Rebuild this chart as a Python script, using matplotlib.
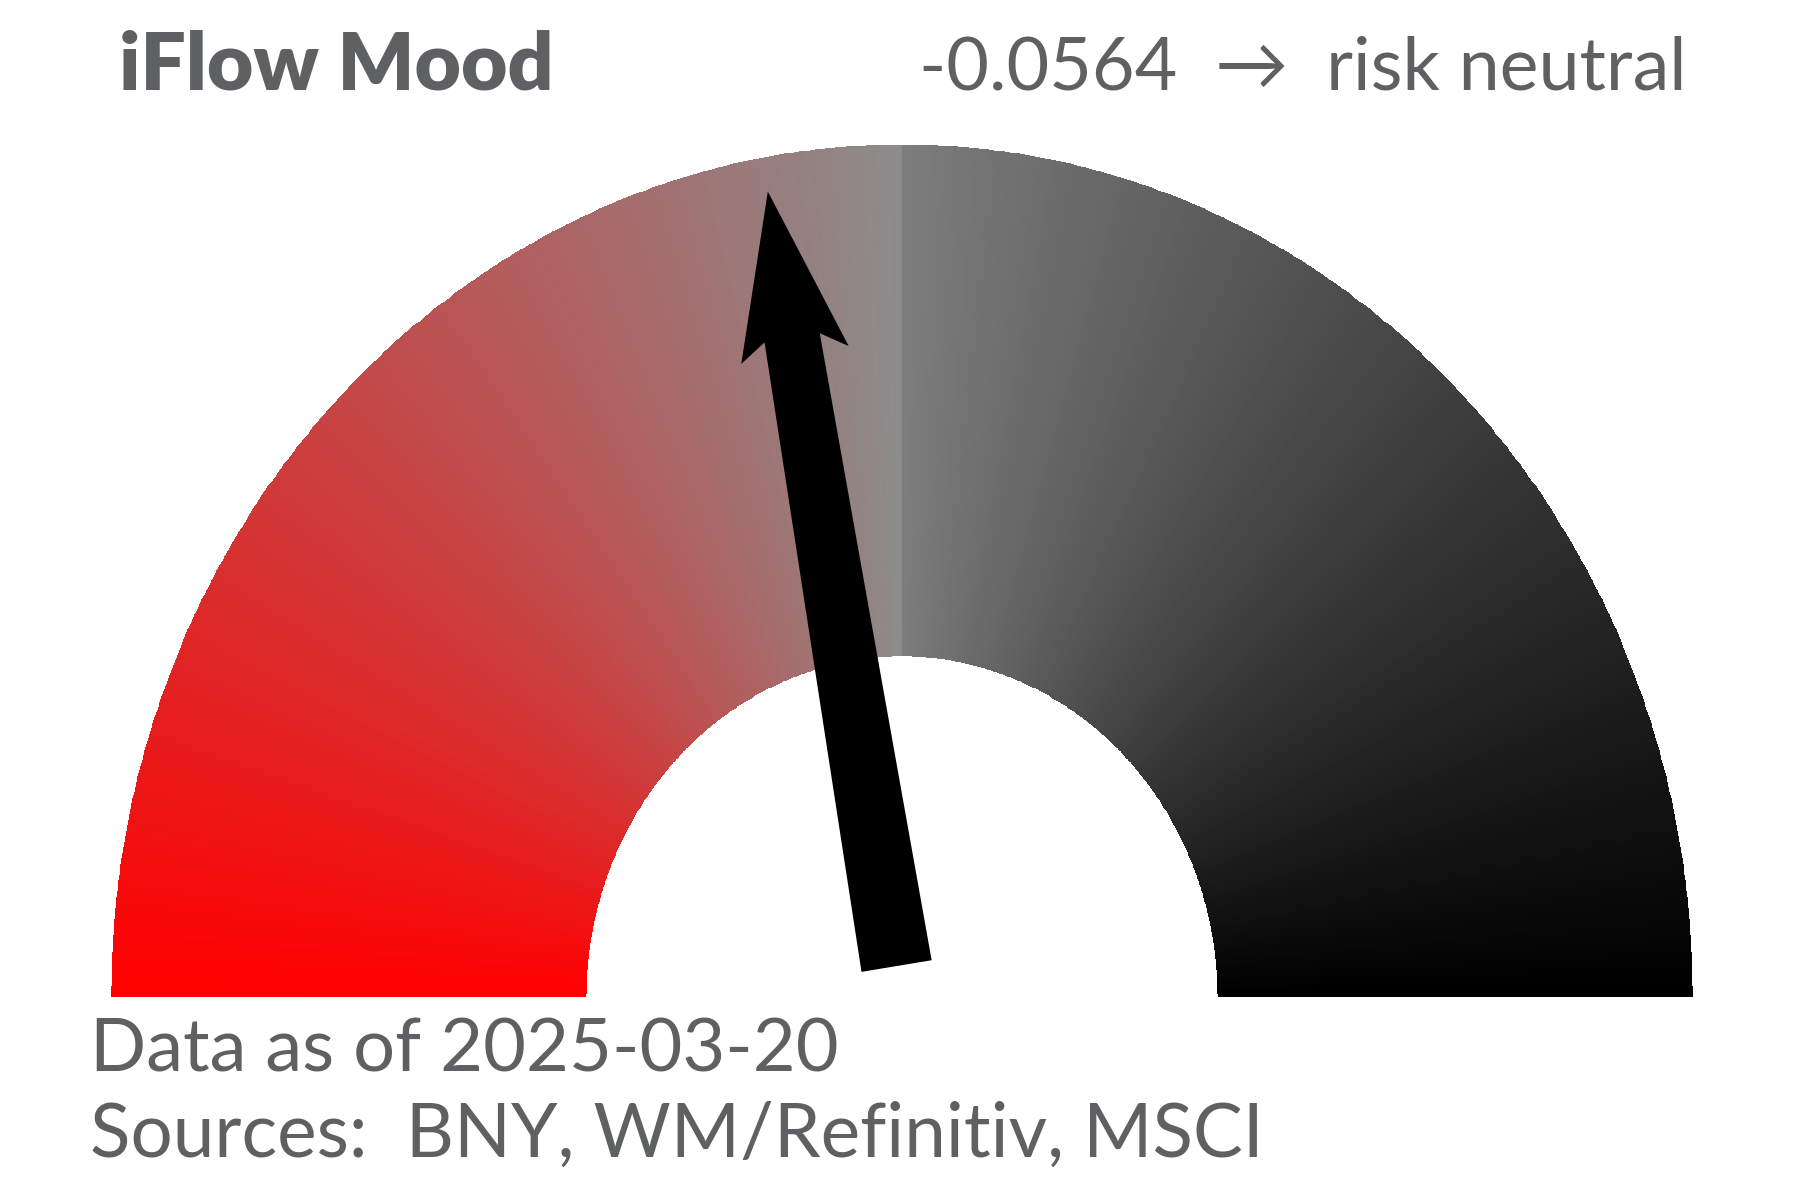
import numpy as np
import matplotlib
matplotlib.use("Agg")
import matplotlib.pyplot as plt
from matplotlib.colors import LinearSegmentedColormap

# values shown on the gauge
mood_value = -0.0564
mood_label = "risk neutral"
scale_min, scale_max = -0.5, 0.5
title = "iFlow Mood"
data_date = "2025-03-20"
sources = ["BNY", "WM/Refinitiv", "MSCI"]

# gauge colours: left half red -> grey, right half grey -> black
left_colors = ["#ff0000", "#8c8c8c"]
right_colors = ["#7c7c7c", "#000000"]
text_color = "#5f6061"
fonts = ["Lato", "DejaVu Sans"]

R_OUT, R_IN = 1.0, 0.4
K = 1.077  # vertical stretch of the gauge on screen

fig = plt.figure(figsize=(12, 8), dpi=150)
ax = fig.add_axes([0, 0, 1, 1])
ax.set_xlim(-1.1411, 1.1373)
ax.set_ylim(-0.2401, 1.170)
ax.axis("off")

# gradient half rings drawn as quad meshes
n = 240
radii = np.array([R_IN, R_OUT])
for (a0, a1), cols in [((np.pi, np.pi / 2), left_colors), ((np.pi / 2, 0.0), right_colors)]:
    theta = np.linspace(a0, a1, n + 1)
    T, Rr = np.meshgrid(theta, radii)
    X, Y = Rr * np.cos(T), Rr * np.sin(T)
    C = np.linspace(0, 1, n).reshape(1, -1)
    cmap = LinearSegmentedColormap.from_list("half", cols)
    ax.pcolormesh(X, Y, C, cmap=cmap, shading="flat", antialiased=False,
                  edgecolors="face", linewidth=0.3)

# needle, built in screen-proportional units then squashed back to data
ang = np.pi / 2 - (mood_value - (scale_min + scale_max) / 2) / (scale_max - scale_min) * np.pi
d = np.array([np.cos(ang), K * np.sin(ang)])
reach = np.linalg.norm(d)
d = d / reach
p = np.array([d[1], -d[0]])  # perpendicular
base_off, tip = 0.038, 0.96 * reach
barb, joint = 0.822, 0.844
w_base, w_joint, w_head = 0.045, 0.0354, 0.0689
pts = np.array([
    base_off * d + w_base * p,
    joint * d + w_joint * p,
    barb * d + w_head * p,
    tip * d,
    barb * d - w_head * p,
    joint * d - w_joint * p,
    base_off * d - w_base * p,
])
ax.fill(pts[:, 0], pts[:, 1] / K, color="black", lw=0, zorder=3)

# texts
fig.text(0.066, 0.9256, title, fontsize=38.5, fontweight="heavy",
         family=fonts, color=text_color, ha="left", va="baseline")
fig.text(0.937, 0.925, f"{mood_value:.4f}  \u2192  {mood_label}", fontsize=35.3,
         fontweight="normal", family=fonts, color=text_color,
         ha="right", va="baseline")
fig.text(0.050, 0.1069, f"Data as of {data_date}", fontsize=35.5, fontweight="normal",
         family=fonts, color=text_color, ha="left", va="baseline")
fig.text(0.050, 0.0361, "Sources:  " + ", ".join(sources), fontsize=35.8,
         fontweight="normal", family=fonts, color=text_color,
         ha="left", va="baseline")

fig.savefig("out.png", dpi=150, facecolor="white")
